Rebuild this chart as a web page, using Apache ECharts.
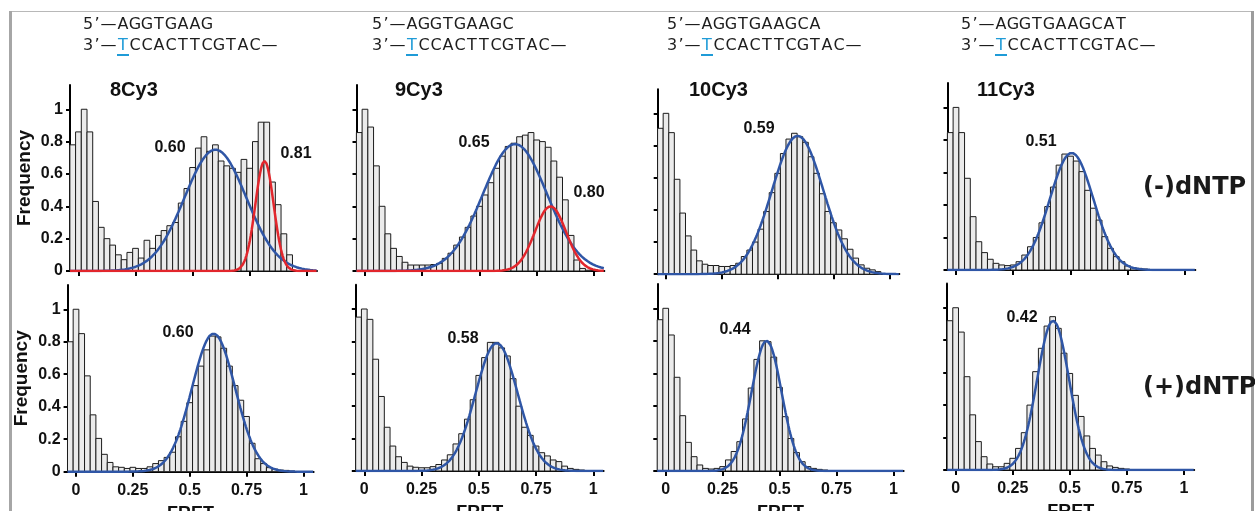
<!DOCTYPE html>
<html>
<head>
<meta charset="utf-8">
<script src="https://cdn.jsdelivr.net/npm/echarts@6/dist/echarts.min.js"></script>
<style>
html,body{margin:0;padding:0;background:#fff;}
#chart{width:1255px;height:511px;}
</style>
</head>
<body>
<div id="chart"></div>
<script>
// ---------- data ----------
const BIN_CENTERS = [-0.025, 0, 0.025, 0.05, 0.075, 0.1, 0.125, 0.15, 0.175, 0.2, 0.225, 0.25, 0.275, 0.3, 0.325, 0.35, 0.375, 0.4, 0.425, 0.45, 0.475, 0.5, 0.525, 0.55, 0.575, 0.6, 0.625, 0.65, 0.675, 0.7, 0.725, 0.75, 0.775, 0.8, 0.825, 0.85, 0.875, 0.9, 0.925, 0.95, 0.975];
const BIN_WIDTH = 0.025;

const X_TICKS = [0, 0.25, 0.5, 0.75, 1];
const Y_TICKS = [0, 0.2, 0.4, 0.6, 0.8, 1];

const TITLES = ['8Cy3', '9Cy3', '10Cy3', '11Cy3'];
const STRAND_5 = ['5’—AGGTGAAG', '5’—AGGTGAAGC', '5’—AGGTGAAGCA', '5’—AGGTGAAGCAT'];
const STRAND_3 = '3’—TCCACTTCGTAC—';
const ROW_LABELS = ['(-)dNTP', '(+)dNTP'];

// histogram frequencies (bins start at -0.025)
const FREQ_8_MINUS  = [0.78, 0.86, 1.0, 0.86, 0.43, 0.27, 0.20, 0.16, 0.10, 0.07, 0.115, 0.14, 0.08, 0.19, 0.14, 0.22, 0.25, 0.28, 0.30, 0.42, 0.51, 0.64, 0.76, 0.83, 0.74, 0.78, 0.68, 0.65, 0.635, 0.61, 0.69, 0.635, 0.80, 0.92, 0.92, 0.55, 0.41, 0.23, 0.10];
const FREQ_9_MINUS  = [0.856, 1.0, 0.89, 0.65, 0.40, 0.23, 0.14, 0.09, 0.054, 0.037, 0.037, 0.037, 0.037, 0.04, 0.047, 0.078, 0.11, 0.16, 0.21, 0.27, 0.34, 0.40, 0.47, 0.546, 0.635, 0.71, 0.77, 0.79, 0.83, 0.84, 0.856, 0.81, 0.80, 0.765, 0.68, 0.58, 0.44, 0.22, 0.068, 0.016, 0.005];
const FREQ_10_MINUS = [0.907, 1.0, 0.88, 0.59, 0.38, 0.238, 0.15, 0.083, 0.062, 0.054, 0.054, 0.048, 0.048, 0.054, 0.068, 0.11, 0.15, 0.20, 0.28, 0.39, 0.507, 0.627, 0.75, 0.84, 0.876, 0.855, 0.82, 0.73, 0.627, 0.50, 0.39, 0.32, 0.275, 0.22, 0.155, 0.10, 0.058, 0.037, 0.027, 0.016];
const FREQ_11_MINUS = [0.845, 1.0, 0.845, 0.564, 0.328, 0.174, 0.107, 0.066, 0.041, 0.031, 0.027, 0.031, 0.051, 0.092, 0.143, 0.20, 0.29, 0.39, 0.51, 0.645, 0.713, 0.70, 0.67, 0.605, 0.49, 0.38, 0.307, 0.205, 0.133, 0.082, 0.051, 0.025, 0.014, 0.01, 0.006];
const FREQ_8_PLUS   = [0.80, 1.0, 0.85, 0.59, 0.35, 0.205, 0.107, 0.057, 0.03, 0.027, 0.02, 0.027, 0.02, 0.02, 0.03, 0.05, 0.068, 0.088, 0.12, 0.215, 0.31, 0.425, 0.53, 0.65, 0.75, 0.835, 0.83, 0.76, 0.65, 0.53, 0.44, 0.34, 0.175, 0.08, 0.05, 0.025, 0.016, 0.01, 0.008, 0.004];
const FREQ_9_PLUS   = [0.95, 1.0, 0.936, 0.69, 0.46, 0.27, 0.154, 0.088, 0.053, 0.03, 0.023, 0.02, 0.02, 0.027, 0.04, 0.068, 0.10, 0.167, 0.23, 0.32, 0.44, 0.59, 0.70, 0.794, 0.794, 0.76, 0.71, 0.57, 0.40, 0.27, 0.22, 0.154, 0.113, 0.093, 0.068, 0.058, 0.03, 0.016, 0.01, 0.006];
const FREQ_10_PLUS  = [0.93, 1.0, 0.836, 0.576, 0.34, 0.176, 0.088, 0.037, 0.016, 0.012, 0.016, 0.027, 0.068, 0.12, 0.18, 0.32, 0.51, 0.686, 0.80, 0.795, 0.70, 0.514, 0.334, 0.20, 0.113, 0.057, 0.027, 0.016, 0.01, 0.006];
const FREQ_11_PLUS  = [0.92, 1.0, 0.85, 0.575, 0.34, 0.175, 0.082, 0.037, 0.02, 0.02, 0.041, 0.072, 0.133, 0.23, 0.40, 0.606, 0.75, 0.887, 0.945, 0.873, 0.72, 0.595, 0.46, 0.33, 0.21, 0.133, 0.092, 0.051, 0.025, 0.016, 0.01, 0.006];

// Gaussian fit parameters: [centre, sigma, peak height]
const FIT_8_MINUS_BLUE  = [0.60, 0.135, 0.75];
const FIT_8_MINUS_RED   = [0.815, 0.040, 0.68];
const FIT_9_MINUS_BLUE  = [0.655, 0.140, 0.785];
const FIT_9_MINUS_RED   = [0.81, 0.068, 0.40];
const FIT_10_MINUS_BLUE = [0.59, 0.115, 0.86];
const FIT_11_MINUS_BLUE = [0.505, 0.095, 0.72];
const FIT_8_PLUS_BLUE   = [0.605, 0.095, 0.85];
const FIT_9_PLUS_BLUE   = [0.578, 0.092, 0.79];
const FIT_10_PLUS_BLUE  = [0.443, 0.066, 0.80];
const FIT_11_PLUS_BLUE  = [0.427, 0.070, 0.92];

// peak annotation texts
const PEAK_LABELS_MINUS = [['0.60', '0.81'], ['0.65', '0.80'], ['0.59'], ['0.51']];
const PEAK_LABELS_PLUS  = [['0.60'], ['0.58'], ['0.44'], ['0.42']];

// ---------- layout ----------
const X_MIN = -0.037, X_MAX = 1.045, Y_MAX = 1.15;
const BLUE = '#2f56a6', RED = '#e2262c';
const GRIDS = [
  {left: 70,    top: 85,    width: 247,   height: 186},
  {left: 356.5, top: 85,    width: 247.8, height: 186},
  {left: 657.7, top: 89.2,  width: 241.6, height: 185},
  {left: 947.5, top: 83,    width: 247.8, height: 187},
  {left: 67.6,  top: 284.9, width: 246,   height: 186.8},
  {left: 355.8, top: 284.7, width: 247.8, height: 186.3},
  {left: 657.3, top: 283.9, width: 246.3, height: 187.1},
  {left: 947.2, top: 283.4, width: 247,   height: 186.6}
];
const PANEL_FREQ = [FREQ_8_MINUS, FREQ_9_MINUS, FREQ_10_MINUS, FREQ_11_MINUS, FREQ_8_PLUS, FREQ_9_PLUS, FREQ_10_PLUS, FREQ_11_PLUS];
const PANEL_FITS = [
  [[FIT_8_MINUS_BLUE, BLUE], [FIT_8_MINUS_RED, RED]],
  [[FIT_9_MINUS_BLUE, BLUE], [FIT_9_MINUS_RED, RED]],
  [[FIT_10_MINUS_BLUE, BLUE]],
  [[FIT_11_MINUS_BLUE, BLUE]],
  [[FIT_8_PLUS_BLUE, BLUE]],
  [[FIT_9_PLUS_BLUE, BLUE]],
  [[FIT_10_PLUS_BLUE, BLUE]],
  [[FIT_11_PLUS_BLUE, BLUE]]
];
const PEAK_POS = [
  [[170, 148], [296, 154]], [[474, 143], [589, 193]], [[759, 129]], [[1041, 142]],
  [[178, 333]], [[463, 339]], [[735, 330]], [[1022, 318]]
];

function gaussCurve(p) {
  const pts = [];
  for (let x = X_MIN; x <= X_MAX + 1e-9; x += 0.004) {
    pts.push([x, p[2] * Math.exp(-((x - p[0]) ** 2) / (2 * p[1] * p[1]))]);
  }
  return pts;
}

const grid = [], xAxis = [], yAxis = [], series = [];
const AX = {color: '#000', width: 2};
for (let i = 0; i < 8; i++) {
  const bottom = i >= 4, first = i % 4 === 0;
  grid.push(Object.assign({containLabel: false, outerBoundsMode: 'none'}, GRIDS[i]));
  xAxis.push({
    gridIndex: i, type: 'value', min: X_MIN, max: X_MAX,
    axisLine: {show: true, onZero: false, lineStyle: AX},
    axisTick: {show: true, customValues: X_TICKS, length: 5, lineStyle: AX},
    axisLabel: {show: bottom, customValues: X_TICKS, fontSize: 16, fontWeight: 'bold', color: '#111', margin: 11, fontFamily: 'Liberation Sans'},
    splitLine: {show: false},
    name: bottom ? 'FRET' : '', nameLocation: 'middle', nameGap: 33,
    nameTextStyle: {fontSize: 18, fontWeight: 'bold', color: '#111', fontFamily: 'Liberation Sans'}
  });
  yAxis.push({
    gridIndex: i, type: 'value', min: 0, max: Y_MAX,
    axisLine: {show: true, onZero: false, lineStyle: AX},
    axisTick: {show: true, customValues: Y_TICKS, length: 4, lineStyle: AX},
    axisLabel: {show: first, customValues: Y_TICKS, fontSize: 16, fontWeight: 'bold', color: '#111', margin: 7, fontFamily: 'Liberation Sans'},
    splitLine: {show: false},
    name: first ? 'Frequency' : '', nameLocation: 'middle', nameGap: 36, nameRotate: 90,
    nameTextStyle: {fontSize: 19, fontWeight: 'bold', color: '#111', fontFamily: 'Liberation Sans'}
  });
  const freq = PANEL_FREQ[i];
  series.push({
    type: 'custom', xAxisIndex: i, yAxisIndex: i, z: 2, silent: true,
    data: freq.map((v, k) => [BIN_CENTERS[k], v]),
    encode: {x: 0, y: 1},
    renderItem: function (params, api) {
      const c = api.value(0), v = api.value(1);
      const p0 = api.coord([c - BIN_WIDTH / 2, v]);
      const p1 = api.coord([c + BIN_WIDTH / 2, 0]);
      return {type: 'rect', shape: {x: p0[0], y: p0[1], width: p1[0] - p0[0], height: p1[1] - p0[1]},
              style: {fill: '#ebebeb', stroke: '#1c1c1c', lineWidth: 1}};
    }
  });
  PANEL_FITS[i].forEach(function (f, j) {
    series.push({
      type: 'line', xAxisIndex: i, yAxisIndex: i, z: 4 + j, silent: true,
      showSymbol: false, symbol: 'none', smooth: false,
      lineStyle: {color: f[1], width: 2.5},
      data: gaussCurve(f[0])
    });
  });
}

// ---------- text graphics ----------
const graphic = [];
// frame
graphic.push({type: 'rect', shape: {x: 9, y: 11, width: 1243, height: 1}, style: {fill: '#b8b8b8'}, silent: true});
graphic.push({type: 'rect', shape: {x: 9, y: 11, width: 3, height: 500}, style: {fill: '#a6a6a6'}, silent: true});
graphic.push({type: 'rect', shape: {x: 1251, y: 11, width: 3, height: 500}, style: {fill: '#9c9c9c'}, silent: true});

const CELL_W = {'’': 6, '—': 17};
function spaced(str, blueIndex) {
  return str.split('').map(function (ch, k) {
    const w = CELL_W[ch] || 12;
    return '{' + (k === blueIndex ? 'b' : 'c') + w + '|' + ch + '}';
  }).join('');
}
const RICH = {};
[6, 12, 17].forEach(function (w) {
  RICH['c' + w] = {width: w, align: 'center', fontSize: 16, fontFamily: 'DejaVu Sans', fill: '#1e1e1e'};
  RICH['b' + w] = {width: w, align: 'center', fontSize: 16, fontFamily: 'DejaVu Sans', fill: '#1f9bd7'};
});
const SEQ_X = [82, 371, 666, 960];
const TITLE_X = [110, 395, 689, 977];
for (let c = 0; c < 4; c++) {
  graphic.push({type: 'text', x: SEQ_X[c], y: 25, silent: true,
    style: {text: spaced(STRAND_5[c], -1), rich: RICH, verticalAlign: 'middle', align: 'left'}});
  graphic.push({type: 'text', x: SEQ_X[c], y: 46, silent: true,
    style: {text: spaced(STRAND_3, 3), rich: RICH, verticalAlign: 'middle', align: 'left'}});
  graphic.push({type: 'rect', silent: true, shape: {x: SEQ_X[c] + 35, y: 54, width: 12, height: 2}, style: {fill: '#1f9bd7'}});
  graphic.push({type: 'text', x: TITLE_X[c], y: 90, silent: true,
    style: {text: TITLES[c], fontSize: 20, fontWeight: 'bold', fontFamily: 'Liberation Sans', fill: '#111', verticalAlign: 'middle', align: 'left'}});
}
for (let i = 0; i < 8; i++) {
  const labels = i < 4 ? PEAK_LABELS_MINUS[i] : PEAK_LABELS_PLUS[i - 4];
  labels.forEach(function (t, j) {
    graphic.push({type: 'text', x: PEAK_POS[i][j][0], y: PEAK_POS[i][j][1], silent: true,
      style: {text: t, fontSize: 16, fontWeight: 'bold', fontFamily: 'Liberation Sans', fill: '#111', align: 'center', verticalAlign: 'middle'}});
  });
}
graphic.push({type: 'text', x: 1143, y: 188, silent: true,
  style: {text: ROW_LABELS[0], fontSize: 24, fontWeight: 'bold', fontFamily: 'DejaVu Sans', fill: '#1a1a1a', align: 'left', verticalAlign: 'middle'}});
graphic.push({type: 'text', x: 1143, y: 388, silent: true,
  style: {text: ROW_LABELS[1], fontSize: 24, fontWeight: 'bold', fontFamily: 'DejaVu Sans', fill: '#1a1a1a', align: 'left', verticalAlign: 'middle'}});

const chart = echarts.init(document.getElementById('chart'), null, {renderer: 'canvas'});
chart.setOption({
  animation: false,
  backgroundColor: '#fff',
  grid: grid, xAxis: xAxis, yAxis: yAxis, series: series, graphic: graphic
});
</script>
</body>
</html>
